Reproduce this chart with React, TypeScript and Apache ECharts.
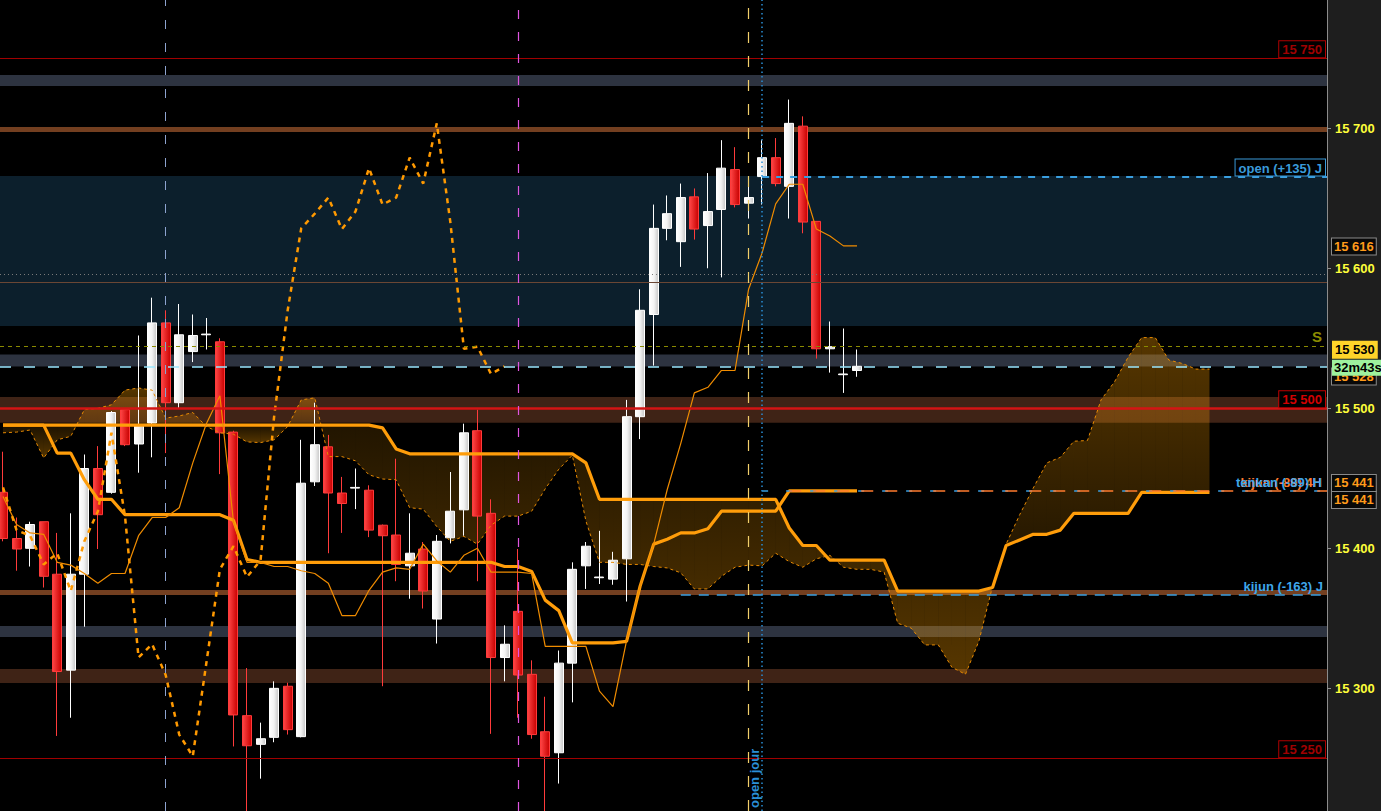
import React, { useEffect, useRef } from "react";
import * as echarts from "echarts";

// ---------- data ----------
const candleOpen = [15440,15407,15400,15419,15381.5,15313,15381.5,15457,15440,15499,15474.5,15489.5,15561,15504,15540.5,15552.5,15547.5,15483,15280.5,15260,15265,15301.5,15265.5,15447.5,15472.5,15439.5,15443,15441.5,15416.5,15409.5,15387.5,15399.5,15349.5,15407.5,15427.5,15484,15425,15322,15355,15310,15269,15254,15318,15387.5,15379,15378,15392.5,15494,15567,15628.5,15619,15651,15630.5,15642,15670.5,15646.5,15665.5,15679,15658.5,15701.5,15633.5,15542.5,15524,15527];
const candleClose = [15407,15399.5,15417,15380,15312,15381.5,15457,15424,15497,15474,15487.5,15561,15504,15552.5,15552,15553,15482.5,15281,15259,15264,15300,15270.5,15446.5,15474,15439.5,15432,15443.5,15413,15409,15388.5,15396.5,15369.5,15405,15426.5,15482.5,15423,15322,15331.5,15309.5,15267,15251.5,15318,15385,15401.5,15379.5,15391.5,15494,15570,15628.5,15639,15650.5,15628,15640.5,15671.5,15645.5,15650.5,15679,15660.5,15703.5,15633,15542.5,15544,15524.5,15530];
const candleLow = [15405,15384,15387,15372,15266,15279,15344,15399.5,15439,15473,15454,15465,15468,15500,15533,15542,15453,15258.5,15200,15235.5,15261.5,15267,15265,15444.5,15396.5,15411,15428,15408,15301.5,15376.5,15364,15357,15332,15403.5,15409,15376.5,15267.5,15305,15279,15264,15161,15232,15290,15371,15374.5,15374,15362,15478,15530.5,15620,15601,15620.5,15600,15593.5,15643.5,15635.5,15645.5,15658.5,15635.5,15625,15535.5,15525.5,15511,15522.5];
const candleHigh = [15469,15422,15419,15419,15411,15425,15467,15473,15498,15499,15552,15579,15570,15574.5,15567,15564.5,15550,15484,15314.5,15275.5,15305,15304,15477.5,15504,15481,15451,15457,15445,15417,15464,15425,15404.5,15409.5,15454.5,15489,15499,15435,15345,15399.5,15320,15294,15327,15390,15404.5,15412.5,15397.5,15506,15585,15645.5,15652,15660.5,15657,15668,15691.5,15686.5,15659,15691.5,15693,15720.5,15708.5,15633.5,15562,15557,15542];

const tenkan = [15437,15417,15411,15410,15390,15388,15382,15375,15382,15382,15409,15422,15422,15429,15461,15489,15509,15419,15390,15390,15387,15387,15384,15382,15375,15352,15352,15370,15383,15386,15385,15403,15391,15383,15395,15400,15383,15383,15383,15382,15330,15330,15330,15330,15298,15287,15334,15373,15403,15442,15475,15511,15515,15527,15527,15585,15611,15646,15660,15660,15628,15623,15616,15616];
const kijun = [15488,15488,15488,15488,15468,15468,15449,15435,15435,15424,15424,15424,15424,15424,15424,15424,15424,15420,15392,15390,15390,15390,15390,15390,15390,15390,15390,15390,15390,15390,15390,15390,15390,15390,15390,15390,15390,15387,15387,15383.5,15363,15355.5,15332.5,15332.5,15332.5,15332.5,15333.5,15373,15403,15406.5,15411,15411,15414,15426.5,15426.5,15426.5,15426.5,15426.5,15441,15441,15441,15441,15441,15441];
const senkouA = [15482.5,15483,15484.5,15464.5,15477.5,15480,15499,15500,15502.5,15513,15514.5,15513,15493,15494.5,15497,15487,15482.5,15481.5,15476,15475.5,15477.5,15487,15506,15507.5,15465.5,15465.5,15462.5,15452.5,15449.5,15449,15429,15428,15415.5,15405,15408.5,15403,15416.5,15423,15423,15426.5,15442.5,15456.5,15466.5,15419.5,15390,15390,15388.5,15388.5,15387,15386,15382.5,15371,15371,15380,15386.5,15388,15387.5,15396.5,15390.5,15386.5,15392.5,15395,15386.5,15385,15385,15383,15346.5,15343,15331,15331,15315,15310,15334,15373,15403,15424,15443,15461,15465,15476.5,15477,15506,15519,15536.5,15550.5,15550.5,15534.5,15532,15528,15528];
const senkouB = [15488,15488,15488,15488,15488,15488,15488,15488,15488,15488,15488,15488,15488,15488,15488,15488,15488,15488,15488,15488,15488,15488,15488,15488,15488,15488,15488,15488,15486,15471,15467.5,15467.5,15467.5,15467.5,15467.5,15467.5,15467.5,15467.5,15467.5,15467.5,15467.5,15467.5,15467.5,15461,15435,15435,15435,15435,15435,15435,15435,15435,15435,15435,15435,15435,15435,15435,15414.5,15402,15402,15391.5,15391.5,15391.5,15391.5,15391.5,15369.5,15369.5,15369.5,15369.5,15369.5,15369.5,15369.5,15372,15402,15406,15410,15410,15413,15425,15425,15425,15425,15425,15440,15440,15440,15440,15440,15440];
const chikou = [15443.5,15413,15409,15388.5,15396.5,15369.5,15405,15426.5,15482.5,15423,15322,15331.5,15309.5,15267,15251.5,15318,15385,15401.5,15379.5,15391.5,15494,15570,15628.5,15639,15650.5,15628,15640.5,15671.5,15645.5,15650.5,15679,15660.5,15703.5,15633,15542.5,15544,15524.5,15530];

const yTicks = [15300, 15400, 15500, 15600, 15700];

// horizontal zones and levels (price values)
const grayBands = [[15730.2, 15738.1], [15529.8, 15538.4], [15336.6, 15344.5]];
const brownBands = [[15489.6, 15508.1], [15303.8, 15313.8]];
const brownLines = [[15697.4, 15700.9], [15366.6, 15370.2]];
const tealZone = [15558.8, 15665.9];
const redLevels = [15750, 15500, 15250];
const openLevel = 15665.5;
const kijunJLevel = 15367;
const kijunHLevel = 15441;
const lastPrice = 15530;
const sLevel = 15544.5;
const dottedLevel = 15595.9;
const thinBrownLevel = 15590.2;
const verticalMarks = [12, 38, 55, 56];

const Y_MIN = 15212.4;
const Y_MAX = 15791.6;
const X_MIN = -0.2213;
const X_MAX = 97.67;
const FONT = '"Liberation Sans", Arial, sans-serif';

const fmt = (v: number) => String(Math.round(v)).replace(/\B(?=(\d{3})+(?!\d))/g, " ");

function cloudRenderItem(params: any, api: any) {
  const t = api.value(0);
  const n = senkouA.length;
  const sgn = (k: number) => (senkouA[k] + senkouA[k + 1] - senkouB[k] - senkouB[k + 1] >= 0 ? 1 : -1);
  const s = sgn(t);
  let a = t;
  let b = t;
  while (a > 0 && sgn(a - 1) === s) a--;
  while (b < n - 2 && sgn(b + 1) === s) b++;
  let hi = -Infinity;
  let lo = Infinity;
  for (let k = a; k <= b + 1; k++) {
    hi = Math.max(hi, senkouA[k], senkouB[k]);
    lo = Math.min(lo, senkouA[k], senkouB[k]);
  }
  const yTop = api.coord([t, hi])[1];
  const yBot = api.coord([t, lo])[1] + 0.5;
  const strong = "rgba(255,160,0,0.34)";
  const weak = "rgba(255,160,0,0.11)";
  const fill = new echarts.graphic.LinearGradient(
    0, yTop, 0, yBot,
    [
      { offset: 0, color: s > 0 ? strong : weak },
      { offset: 1, color: s > 0 ? weak : strong },
    ],
    true
  );
  const pA0 = api.coord([t, api.value(1)]);
  const pB0 = api.coord([t, api.value(2)]);
  const pA1 = api.coord([t + 1, api.value(3)]);
  const pB1 = api.coord([t + 1, api.value(4)]);
  return {
    type: "polygon",
    shape: { points: [pA0, pA1, pB1, pB0] },
    style: { fill },
    silent: true,
  };
}

export default function App() {
  const ref = useRef<HTMLDivElement>(null);

  useEffect(() => {
    const el = ref.current!;
    const chart = echarts.init(el, null, { renderer: "svg", width: 1381, height: 811 });

    const candleData = candleOpen.map((o, i) => [i, o, candleClose[i], candleLow[i], candleHigh[i]]);
    const cloudData = senkouA.slice(0, -1).map((v, t) => [t, v, senkouB[t], senkouA[t + 1], senkouB[t + 1]]);
    const pts = (arr: number[]) => arr.map((v, i) => [i, v]);

    const whiteGrad = new echarts.graphic.LinearGradient(0, 0, 1, 0, [
      { offset: 0, color: "#ffffff" },
      { offset: 0.5, color: "#f3f3f3" },
      { offset: 1, color: "#c6c6c6" },
    ]);
    const redGrad = new echarts.graphic.LinearGradient(0, 0, 1, 0, [
      { offset: 0, color: "#ff4646" },
      { offset: 1, color: "#c80000" },
    ]);

    const areaItem = (r: number[], color: string) => [
      { yAxis: r[0], itemStyle: { color, opacity: 1 } },
      { yAxis: r[1] },
    ];

    const markArea = {
      silent: true,
      z: 0,
      label: { show: false },
      data: [
        areaItem(tealZone, "#0c1f2c"),
        ...grayBands.map((r) => areaItem(r, "#2d3340")),
        ...brownBands.map((r) => areaItem(r, "#3f2316")),
        ...brownLines.map((r) => areaItem(r, "#733f20")),
      ],
    };

    const markLine = {
      silent: true,
      symbol: ["none", "none"],
      label: { show: false },
      animation: false,
      data: [
        { yAxis: redLevels[0], lineStyle: { color: "#a00000", width: 1, type: "solid", opacity: 1 } },
        { yAxis: redLevels[2], lineStyle: { color: "#a00000", width: 1, type: "solid", opacity: 1 } },
        { yAxis: redLevels[1], lineStyle: { color: "#d41414", width: 2.5, type: "solid", opacity: 1 } },
        { yAxis: dottedLevel, lineStyle: { color: "#7a7a7a", width: 1, type: [1, 3], opacity: 1 } },
        { yAxis: thinBrownLevel, lineStyle: { color: "#6b4634", width: 1, type: "solid", opacity: 1 } },
        { yAxis: sLevel, lineStyle: { color: "#8a8a00", width: 1, type: [4, 4], opacity: 1 } },
        { yAxis: lastPrice, lineStyle: { color: "#9ae8ff", width: 1.5, type: [11, 13], opacity: 1 } },
        [
          { coord: [56, openLevel], lineStyle: { color: "#3a9fe0", width: 2, type: [7, 7], opacity: 1 } },
          { coord: [X_MAX, openLevel] },
        ],
        [
          { coord: [50, kijunJLevel], lineStyle: { color: "#3a9fe0", width: 1.5, type: [10, 8], opacity: 1 } },
          { coord: [X_MAX, kijunJLevel] },
        ],
        [
          { coord: [56, kijunHLevel], lineStyle: { color: "#3a9fe0", width: 1.5, type: [6, 18], opacity: 1 } },
          { coord: [X_MAX, kijunHLevel] },
        ],
        [
          { coord: [58, kijunHLevel], lineStyle: { color: "#ff7b2e", width: 1.5, type: [12, 12], opacity: 1 } },
          { coord: [X_MAX, kijunHLevel] },
        ],
        { xAxis: verticalMarks[0], lineStyle: { color: "#8da3cf", width: 1, type: [9, 14], opacity: 1 } },
        { xAxis: verticalMarks[1], lineStyle: { color: "#e055e0", width: 1.2, type: [9, 13], opacity: 1 } },
        { xAxis: verticalMarks[2], lineStyle: { color: "#f2cf6a", width: 1.2, type: [11, 13], opacity: 1 } },
        { xAxis: verticalMarks[3], lineStyle: { color: "#2a8fd6", width: 1.5, type: [1.5, 3], opacity: 1 } },
      ],
    };

    const lineBase = { type: "line", showSymbol: false, symbol: "none", z: 3, silent: true, animation: false };

    chart.setOption({
      animation: false,
      backgroundColor: "#000000",
      grid: { left: 0, right: 54, top: 0, bottom: 0, containLabel: false, show: false },
      xAxis: {
        type: "value",
        min: X_MIN,
        max: X_MAX,
        show: false,
        axisLine: { show: false, onZero: false },
        splitLine: { show: false },
      },
      yAxis: {
        type: "value",
        position: "right",
        min: Y_MIN,
        max: Y_MAX,
        splitNumber: 5,
        axisLine: { show: true, onZero: false, lineStyle: { color: "#8c8c8c", width: 1 } },
        axisTick: { show: true, length: 4, lineStyle: { color: "#8c8c8c" } },
        splitLine: { show: false },
        axisLabel: {
          color: "#ffff3a",
          fontWeight: "bold",
          fontSize: 13,
          fontFamily: FONT,
          margin: 8,
          showMinLabel: false,
          showMaxLabel: false,
          formatter: (v: number) => (yTicks.indexOf(Math.round(v)) >= 0 && Math.abs(v - Math.round(v)) < 1e-6 ? fmt(v) : ""),
        },
      },
      series: [
        {
          type: "custom",
          name: "cloud",
          z: 1,
          clip: true,
          silent: true,
          renderItem: cloudRenderItem,
          data: cloudData,
          encode: { x: 0, y: [1, 2, 3, 4] },
        },
        {
          type: "candlestick",
          name: "price",
          z: 2,
          barWidth: 9.5,
          silent: true,
          data: candleData,
          itemStyle: {
            color: whiteGrad,
            color0: redGrad,
            borderColor: "#ffffff",
            borderColor0: "#ff3b3b",
            borderColorDoji: "#ffffff",
            borderWidth: 1,
          },
        },
        { ...lineBase, name: "senkouA", data: pts(senkouA), lineStyle: { color: "#e88a00", width: 1, type: [3, 3] } },
        { ...lineBase, name: "senkouB", data: pts(senkouB), lineStyle: { color: "#ff9d0a", width: 3.2 } },
        { ...lineBase, name: "kijun", data: pts(kijun), lineStyle: { color: "#ff9d0a", width: 3.2 } },
        {
          ...lineBase,
          name: "tenkan",
          data: pts(tenkan),
          lineStyle: { color: "#f08c00", width: 1.2 },
          markArea,
          markLine,
        },
        { ...lineBase, name: "chikou", data: pts(chikou), lineStyle: { color: "#ff9900", width: 2.5, type: [5, 5] } },
      ],
    });

    const py = (v: number) => chart.convertToPixel({ yAxisIndex: 0 }, v) as number;
    const px = (v: number) => chart.convertToPixel({ xAxisIndex: 0 }, v) as number;
    const right = px(X_MAX);

    const txt = (text: string, x: number, y: number, o: any) => ({
      type: "text",
      x,
      y,
      z: o.z ?? 20,
      silent: true,
      rotation: o.rotation ?? 0,
      style: {
        text,
        fill: o.fill,
        font: o.font ?? `bold 13px ${FONT}`,
        textAlign: o.align,
        align: o.align,
        textVerticalAlign: o.va,
        verticalAlign: o.va,
        backgroundColor: o.bg,
        borderColor: o.bc,
        borderWidth: o.bc ? 1 : 0,
        padding: o.pad,
      },
    });

    const boxPad = [2, 3, 1, 3];
    const graphics: any[] = [
      { type: "rect", z: -1, silent: true, shape: { x: right, y: 0, width: 1381 - right, height: 811 }, style: { fill: "#1e1e1e" } },
      txt(fmt(redLevels[0]), right - 2, py(redLevels[0]) - 1, { fill: "#a00000", bg: "#000", bc: "#b00000", pad: boxPad, align: "right", va: "bottom" }),
      txt(fmt(redLevels[1]), right - 2, py(redLevels[1]) - 1, { fill: "#d40000", bg: "#000", bc: "#c00000", pad: boxPad, align: "right", va: "bottom" }),
      txt(fmt(redLevels[2]), right - 2, py(redLevels[2]) - 1, { fill: "#a00000", bg: "#000", bc: "#b00000", pad: boxPad, align: "right", va: "bottom" }),
      txt("open (+135) J", right - 2, py(openLevel) - 1, { fill: "#3a9ad9", bg: "#000", bc: "#3a9ad9", pad: boxPad, align: "right", va: "bottom" }),
      txt("kijun (-163) J", right - 4, py(kijunJLevel) - 2, { fill: "#3fa6ea", align: "right", va: "bottom" }),
      txt("kijun (-89) 4H", right - 5, py(kijunHLevel) - 2, { fill: "#ff7b2e", align: "right", va: "bottom" }),
      txt("tenkan (-89) H", right - 5, py(kijunHLevel) - 2, { fill: "#3fa6ea", align: "right", va: "bottom", z: 21 }),
      txt("S", right - 5, py(sLevel) - 2, { fill: "#8c8c00", font: `bold 15px ${FONT}`, align: "right", va: "bottom" }),
      txt(fmt(tenkan[tenkan.length - 1]), right + 5, py(tenkan[tenkan.length - 1]) + 0.5, { fill: "#ff9a1a", bg: "#080808", bc: "#8a8a8a", pad: [2, 2, 1, 2], align: "left", va: "middle" }),
      txt(fmt(senkouA[senkouA.length - 1]), right + 5, py(senkouA[senkouA.length - 1]) + 7.5, { fill: "#ff9a1a", bg: "#080808", bc: "#8a8a8a", pad: [2, 2, 1, 2], align: "left", va: "middle", z: 19 }),
      txt(fmt(lastPrice), right + 5, py(lastPrice) - 16.5, { fill: "#000000", bg: "#ffd42a", pad: [3, 3, 2, 3], align: "left", va: "middle", z: 21 }),
      txt("32m43s", right + 5, py(lastPrice) + 1.5, { fill: "#000000", bg: "#9ef29e", pad: [2, 2, 1, 2], align: "left", va: "middle", z: 22 }),
      txt(fmt(kijunHLevel), right + 5, py(kijunHLevel) - 8, { fill: "#ff9a1a", bg: "#080808", bc: "#8a8a8a", pad: [2, 2, 1, 2], align: "left", va: "middle" }),
      txt(fmt(kijunHLevel), right + 5, py(kijunHLevel) + 9, { fill: "#ff9a1a", bg: "#080808", bc: "#8a8a8a", pad: [2, 2, 1, 2], align: "left", va: "middle" }),
      txt("open jour", px(verticalMarks[3]) - 1, 808, { fill: "#2a8fd6", font: `bold 13px ${FONT}`, align: "left", va: "bottom", rotation: Math.PI / 2 }),
    ];
    chart.setOption({ graphic: graphics });

    return () => chart.dispose();
  }, []);

  return <div ref={ref} style={{ position: "absolute", left: 0, top: 0, width: 1381, height: 811 }} />;
}
